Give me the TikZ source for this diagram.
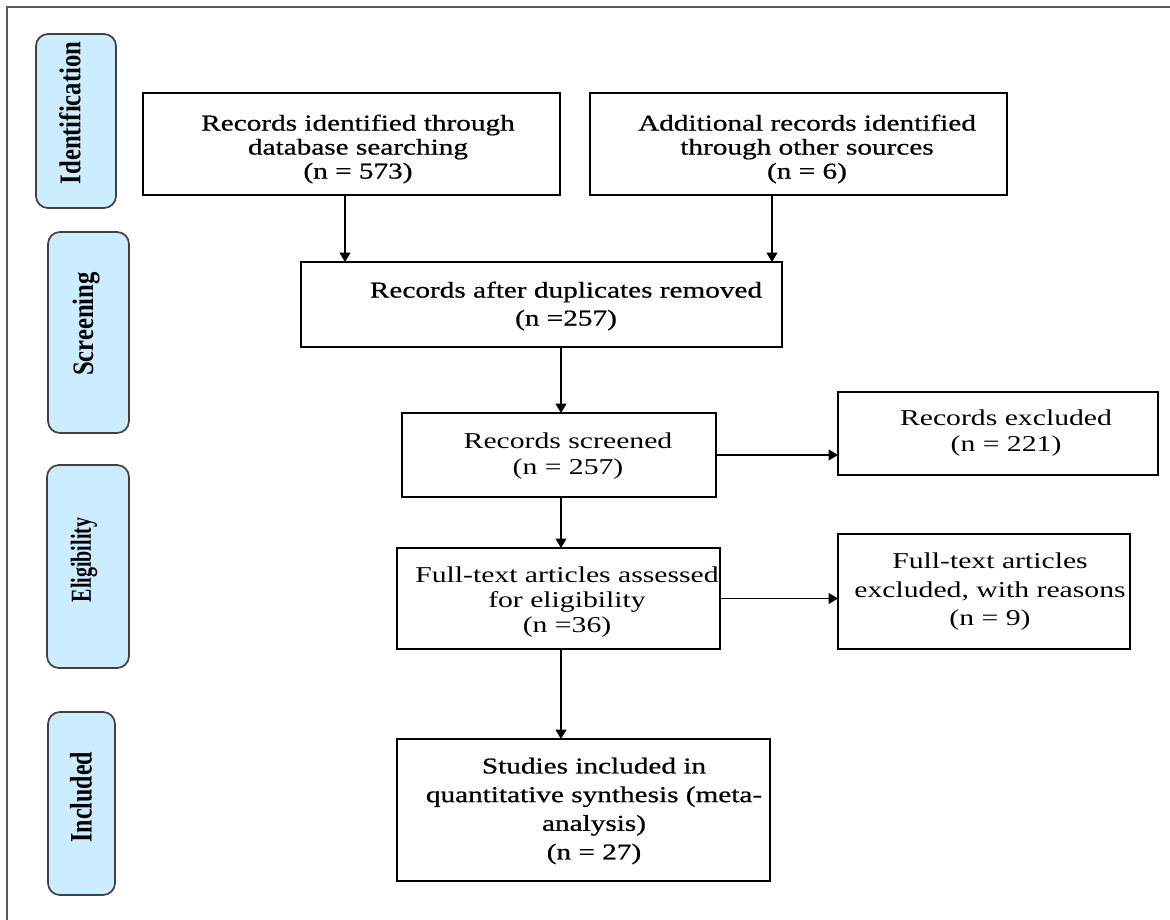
\documentclass[tikz,border=0pt]{standalone}
\usepackage{fontspec}
\setmainfont{Liberation Serif}
\newfontfamily\bx{Liberation Serif}[FakeStretch=1.31]
\newfontfamily\bxb{Liberation Serif}[FakeStretch=1.29,FakeBold=0.7]
\usetikzlibrary{arrows.meta}
\definecolor{sideblue}{RGB}{204,236,255}
\begin{document}
\begin{tikzpicture}[x=0.75pt,y=-0.75pt,
  box/.style={draw, line width=1.3pt, inner sep=0pt, outer sep=0pt},
  side/.style={draw=black!75, fill=sideblue, rounded corners=9pt, line width=1.3pt, inner sep=0pt, outer sep=0pt},
  arr/.style={line width=1.3pt, -{Triangle[width=8pt,length=7pt]}},
  txt/.style={align=center, inner sep=0pt},
  tbold/.style={txt, font=\bxb\fontsize{17}{18}\selectfont},
  tplain/.style={txt, font=\bx\fontsize{17}{20}\selectfont},
  sidetxt/.style={rotate=90, inner sep=0pt, font=\bfseries}]
\useasboundingbox (0,0) rectangle (1170,920);
\fill[white] (0,0) rectangle (1170,920);
% frame
\draw[black!65, line width=1.3pt] (7,920) -- (7,7) -- (1170,7);

% side labels
\node[side, minimum width=60pt, minimum height=130.5pt] (S1) at (76,121) {};
\node[side, minimum width=60.75pt, minimum height=150.75pt] (S2) at (88.5,332.5) {};
\node[side, minimum width=61.5pt, minimum height=152.25pt] (S3) at (88,566.5) {};
\node[side, minimum width=50.25pt, minimum height=137.25pt] (S4) at (81.5,803.5) {};
\node[sidetxt] (L1) at (70,113) {\fontsize{18.5}{20}\selectfont\scalebox{1}[1.22]{Identification}};
\node[sidetxt] (L2) at (86,324) {\fontsize{18.5}{20}\selectfont\scalebox{1}[1.2]{Screening}};
\node[sidetxt] (L3) at (84,560) {\fontsize{15}{16}\selectfont\scalebox{1}[1.45]{Eligibility}};
\node[sidetxt] (L4) at (81,797) {\fontsize{18}{20}\selectfont\scalebox{1}[1.3]{Included}};

% boxes
\node[box, minimum width=312.75pt, minimum height=76.5pt] (A) at (351.5,144) {};
\node[box, minimum width=312.75pt, minimum height=76.5pt] (B) at (798.5,144) {};
\node[box, minimum width=360.75pt, minimum height=63.75pt] (C) at (541.5,304.5) {};
\node[box, minimum width=235.5pt, minimum height=63pt] (D) at (559,455) {};
\node[box, minimum width=240pt, minimum height=62.25pt] (E) at (998,433.5) {};
\node[box, minimum width=242.25pt, minimum height=75.75pt] (F) at (558.5,598.5) {};
\node[box, minimum width=219pt, minimum height=86.25pt] (G) at (984,591.5) {};
\node[box, minimum width=279.75pt, minimum height=106.5pt] (H) at (583.5,810) {};

% texts
\node[tbold] (tA) at (358,149) {Records identified through\\database searching\\(n = 573)};
\node[tbold] (tB) at (807,149) {Additional records identified\\through other sources\\(n = 6)};
\node[tbold, font=\bxb\fontsize{17}{21}\selectfont] (tC) at (566,306) {Records after duplicates removed\\(n =257)};
\node[tplain] (tD) at (568,456) {Records screened\\(n = 257)};
\node[tplain] (tE) at (1006,433) {Records excluded\\(n = 221)};
\node[tplain, font=\bx\fontsize{17}{18.75}\selectfont] (tF) at (567,602) {Full-text articles assessed\\for eligibility\\(n =36)};
\node[tplain, font=\bx\fontsize{17}{21.4}\selectfont] (tG) at (990,592) {Full-text articles\\excluded, with reasons\\(n = 9)};
\node[tbold, font=\bxb\fontsize{17}{21.5}\selectfont] (tH) at (594,811) {Studies included in\\quantitative synthesis (meta-\\analysis)\\(n = 27)};

% connectors
\coordinate (xa) at (345,0);
\coordinate (xb) at (772,0);
\coordinate (xm) at (561,0);
\draw[arr] (A.south -| xa) -- (C.north -| xa);
\draw[arr] (B.south -| xb) -- (C.north -| xb);
\draw[arr] (C.south -| xm) -- (D.north -| xm);
\draw[arr] (D.south -| xm) -- (F.north -| xm);
\draw[arr] (F.south -| xm) -- (H.north -| xm);
\draw[arr] (D.east) -- (E.west |- D.east);
\draw[arr] (F.east) -- (G.west |- F.east);
\end{tikzpicture}
\end{document}
